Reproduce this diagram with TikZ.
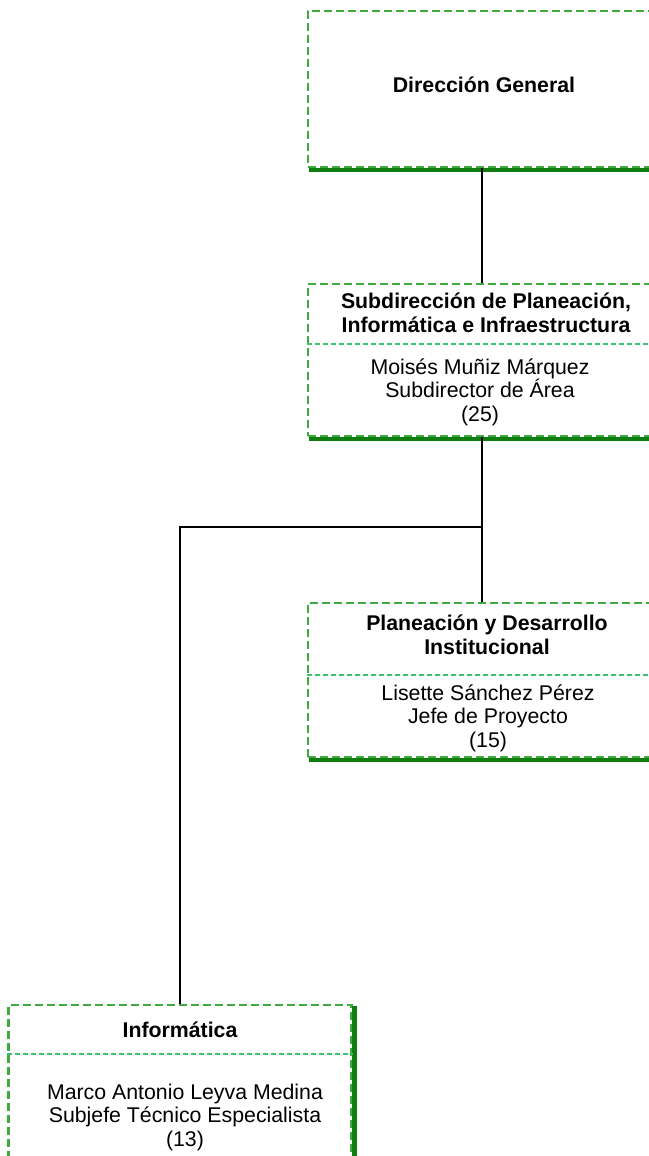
\documentclass[tikz,border=0pt]{standalone}
\usepackage{fontspec}
\setmainfont{Liberation Sans}
\definecolor{boxgreen}{RGB}{64,170,64}
\definecolor{divgreen}{RGB}{60,195,110}
\definecolor{shadegreen}{RGB}{15,125,15}

\begin{document}
\begin{tikzpicture}
  [x=1pt,y=-1pt,
   box/.style={draw=boxgreen,line width=2.2pt,dash pattern=on 8pt off 4pt,minimum width=348pt,inner sep=0pt},
   ttl/.style={font=\bfseries\fontsize{21.3}{23.5}\selectfont,align=center},
   txt/.style={font=\fontsize{21.3}{23.5}\selectfont,align=center},
   divline/.style={divgreen,line width=1.4pt,dash pattern=on 5pt off 3pt},
   shade/.style={shadegreen,line width=4.5pt},
   link/.style={line width=2.2pt}]
  \useasboundingbox (0,0) rectangle (648,1156);

  % boxes
  \node[box,minimum height=156pt] (dg) at (482,89) {};
  \node[box,minimum height=152pt] (sub) at (482,360) {};
  \node[box,minimum height=154pt] (pdi) at (482,680) {};
  \node[box,minimum width=343pt,minimum height=200pt] (inf) at (180,1105) {};

  \foreach \b in {dg,sub,pdi,inf}
    \draw[shade] ([shift={(2,2)}]\b.south west) -- ([shift={(2,2)}]\b.south east) -- ([shift={(2,2)}]\b.north east);

  % dividers
  \coordinate (subdiv) at (0,344);
  \coordinate (pdidiv) at (0,675);
  \coordinate (infdiv) at (0,1054);
  \draw[divline] (sub.west |- subdiv) -- (sub.east |- subdiv);
  \draw[divline] (pdi.west |- pdidiv) -- (pdi.east |- pdidiv);
  \draw[divline] (inf.west |- infdiv) -- (inf.east |- infdiv);

  % texts
  \node[ttl] (dgt) at (484,85) {Dirección General};
  \node[ttl] (subt) at (486,313) {Subdirección de Planeación,\\Informática e Infraestructura};
  \node[txt] (subn) at (480,392) {Moisés Muñiz Márquez\\Subdirector de Área\\(25)};
  \node[ttl] (pdit) at (487,635) {Planeación y Desarrollo\\Institucional};
  \node[txt] (pdin) at (488,718) {Lisette Sánchez Pérez\\Jefe de Proyecto\\(15)};
  \node[ttl] (inft) at (180,1030) {Informática};
  \node[txt] (infn) at (185,1117) {Marco Antonio Leyva Medina\\Subjefe Técnico Especialista\\(13)};

  % connectors
  \coordinate (split) at (482,527);
  \draw[link] (dg.south) -- (sub.north);
  \draw[link] (sub.south) -- (split) -| (inf.north);
  \draw[link] (split) -- (pdi.north);
\end{tikzpicture}
\end{document}
